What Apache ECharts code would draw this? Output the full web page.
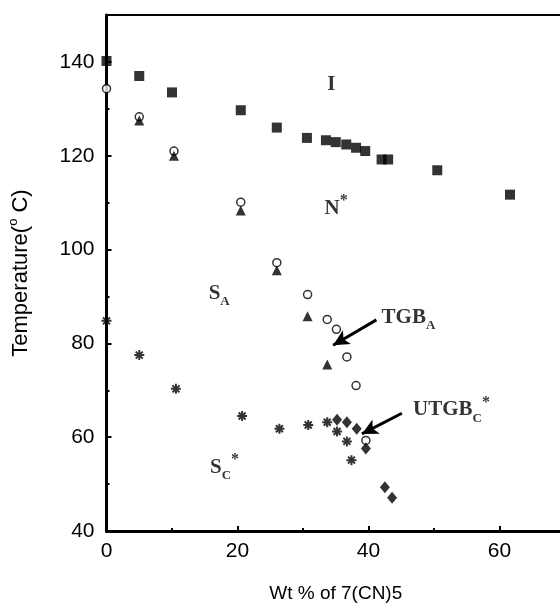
<!DOCTYPE html>
<html>
<head>
<meta charset="utf-8">
<script src="https://cdn.jsdelivr.net/npm/echarts@6/dist/echarts.min.js"></script>
<style>
  html, body { margin: 0; padding: 0; background: #fff; }
  #chart { width: 560px; height: 603px; }
</style>
</head>
<body>
<div id="chart"></div>
<script>
// 数据：[wt%, 温度]
var squarePts = [[0, 140.2], [5, 137], [10, 133.5], [20.5, 129.7], [26, 126], [30.6, 123.8], [33.5, 123.3],
  [35, 122.9], [36.6, 122.4], [38.1, 121.7], [39.5, 121], [42, 119.2], [43, 119.2], [50.5, 116.9], [61.6, 111.7]];
var circlePts = [[0, 134.3], [5, 128.3], [10.3, 121], [20.5, 110.1], [26, 97.2], [30.7, 90.4], [33.7, 85.1],
  [35.1, 83], [36.7, 77.1], [38.1, 71], [39.6, 59.3]];
var trianglePts = [[5, 127.5], [10.3, 120], [20.5, 108.3], [26, 95.6], [30.7, 85.8], [33.7, 75.5]];
var starPts = [[0, 84.8], [5, 77.5], [10.6, 70.3], [20.7, 64.5], [26.4, 61.8], [30.8, 62.6], [33.7, 63.2],
  [35.2, 61.2], [36.7, 59.1], [37.4, 55.1]];
var diamondPts = [[35.2, 63.7], [36.7, 63.2], [38.2, 61.8], [39.6, 57.6], [42.5, 49.3], [43.6, 47.1]];

// 相区标注
var phaseLabels = [
  { text: "{b|I}", pos: [33.7, 135.1] },
  { text: "{b|N}{sup|*}", pos: [33.3, 108.8] },
  { text: "{b|S}{sub|A}", pos: [15.6, 90.7] },
  { text: "{b|TGB}{sub|A}", pos: [42, 85.6] },
  { text: "{b|UTGB}{sub|C}{sup|*}", pos: [46.8, 65.8] },
  { text: "{b|S}{sub|C}{sup|*}", pos: [15.8, 53.6] }
];
// 箭头
var arrows = [
  [[41.2, 85], [34.6, 79.6]],
  [[45.1, 65.1], [39, 60.7]]
];

var asterisk = "path://M5,0 L5,10 M0,5 L10,5 M1.5,1.5 L8.5,8.5 M1.5,8.5 L8.5,1.5";
var serif = "Liberation Serif";
var sans = "Liberation Sans";

var myChart = echarts.init(document.getElementById("chart"));

myChart.setOption({
  backgroundColor: "#fff",
  animation: false,
  grid: {
    left: 106.5,
    right: -5,
    top: 15,
    bottom: 72,
    outerBoundsMode: "none",
    containLabel: false
  },
  xAxis: [{
    type: "value",
    min: 0,
    max: 70,
    interval: 20,
    name: "Wt % of 7(CN)5",
    nameLocation: "middle",
    nameGap: 53,
    nameTextStyle: { fontFamily: sans, fontSize: 19, color: "#000" },
    axisLine: { lineStyle: { color: "#000", width: 3 } },
    axisTick: { inside: true, length: 5, lineStyle: { color: "#000", width: 2 } },
    minorTick: { show: true, splitNumber: 2, length: 3, lineStyle: { color: "#000", width: 2 } },
    splitLine: { show: false },
    axisLabel: {
      fontFamily: sans, fontSize: 21, color: "#000", margin: 10,
      formatter: function(v) { return v % 20 === 0 && v <= 60 ? v : ""; }
    }
  }, {
    // 顶部边框
    type: "value",
    position: "top",
    min: 0,
    max: 70,
    axisLine: { show: true, lineStyle: { color: "#000", width: 2 } },
    axisTick: { show: false },
    axisLabel: { show: false },
    splitLine: { show: false }
  }],
  yAxis: {
    type: "value",
    min: 40,
    max: 150,
    interval: 20,
    name: "{t|Temperature(}{s|o}{t| C)}",
    nameLocation: "middle",
    nameGap: 72,
    nameTextStyle: {
      rich: {
        t: { fontFamily: sans, fontSize: 22, color: "#000", lineHeight: 28 },
        s: { fontFamily: sans, fontSize: 13, color: "#000", verticalAlign: "top", lineHeight: 13 }
      }
    },
    axisLine: { lineStyle: { color: "#000", width: 3 } },
    axisTick: { inside: true, length: 5, lineStyle: { color: "#000", width: 2 } },
    minorTick: { show: true, splitNumber: 2, length: 3, lineStyle: { color: "#000", width: 2 } },
    splitLine: { show: false },
    axisLabel: {
      fontFamily: sans, fontSize: 21, color: "#000", margin: 12,
      formatter: function(v) { return v % 20 === 0 && v <= 140 ? v : ""; }
    }
  },
  series: [
    {
      type: "scatter", name: "I", data: squarePts,
      symbol: "rect", symbolSize: 10,
      itemStyle: { color: "#000" }
    },
    {
      type: "scatter", name: "N*", data: circlePts,
      symbol: "circle", symbolSize: 8,
      itemStyle: { color: "#fff", borderColor: "#000", borderWidth: 1.5 }
    },
    {
      type: "scatter", name: "SA", data: trianglePts,
      symbol: "triangle", symbolSize: 10,
      itemStyle: { color: "#000" }
    },
    {
      type: "scatter", name: "SC*", data: starPts,
      symbol: asterisk, symbolSize: 10,
      itemStyle: { color: "rgba(0,0,0,0)", borderColor: "#000", borderWidth: 2 }
    },
    {
      type: "scatter", name: "UTGB", data: diamondPts,
      symbol: "diamond", symbolSize: [10, 12],
      itemStyle: { color: "#000" }
    },
    {
      // 文字标注
      type: "scatter", name: "labels", symbolSize: 0, silent: true,
      data: phaseLabels.map(function(d) {
        return { value: d.pos, label: { formatter: d.text } };
      }),
      label: {
        show: true,
        position: "inside",
        align: "left",
        verticalAlign: "middle",
        rich: {
          b: { fontFamily: serif, fontWeight: "bold", fontSize: 21, color: "#000", lineHeight: 30 },
          sub: { fontFamily: serif, fontWeight: "bold", fontSize: 13, color: "#000", verticalAlign: "bottom", lineHeight: 14 },
          sup: { fontFamily: serif, fontWeight: "bold", fontSize: 16, color: "#000", verticalAlign: "top", lineHeight: 16 }
        }
      },
      markLine: {
        silent: true,
        symbol: ["none", "arrow"],
        symbolSize: [12, 16],
        lineStyle: { color: "#000", width: 3, type: "solid" },
        label: { show: false },
        data: arrows.map(function(a) {
          return [{ coord: a[0] }, { coord: a[1] }];
        })
      }
    }
  ]
});
</script>
</body>
</html>
